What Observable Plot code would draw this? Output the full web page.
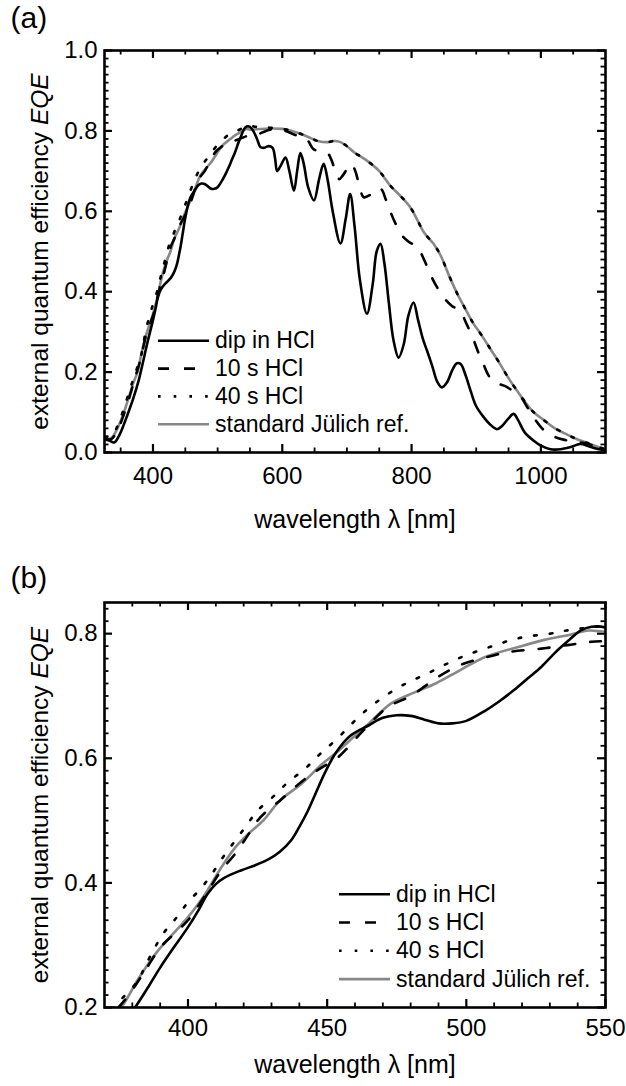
<!DOCTYPE html>
<html><head><meta charset="utf-8">
<script src="https://cdn.jsdelivr.net/npm/d3@7"></script>
<script src="https://cdn.jsdelivr.net/npm/@observablehq/plot@0.6"></script>
<style>
body{margin:0;background:#fff;}
#page{position:relative;width:626px;height:1086px;overflow:hidden;font-family:"Liberation Sans",Arial,Helvetica,sans-serif;}
#page > svg{position:absolute;left:0;}
</style></head>
<body><div id="page"></div>
<script>
// ---- data: [wavelength nm, EQE] ----
const dipHCl = [[325,0.033],[332,0.03],[340,0.025],[347,0.04],[355,0.07],[362,0.10],[370,0.137],[378,0.18],[381,0.20],[386,0.235],[390,0.264],[395,0.297],[400,0.329],[404,0.358],[407,0.382],[410,0.398],[413,0.408],[419,0.42],[424,0.428],[429,0.438],[433,0.45],[437,0.468],[440,0.49],[443,0.515],[446,0.545],[449,0.575],[453,0.608],[458,0.635],[465,0.653],[470,0.665],[475,0.669],[480,0.668],[485,0.662],[490,0.656],[495,0.656],[500,0.66],[507,0.677],[512,0.692],[517,0.709],[522,0.728],[527,0.747],[532,0.77],[537,0.79],[541,0.805],[545,0.811],[550,0.81],[555,0.80],[561,0.78],[566,0.76],[572,0.758],[578,0.762],[585,0.758],[589,0.73],[592,0.70],[598,0.715],[605,0.734],[611,0.70],[618,0.651],[623,0.70],[628,0.745],[633,0.72],[640,0.66],[649,0.627],[657,0.68],[664,0.718],[670,0.68],[678,0.60],[690,0.52],[698,0.58],[705,0.643],[712,0.56],[720,0.43],[731,0.345],[740,0.42],[746,0.50],[752,0.519],[758,0.47],[765,0.37],[772,0.28],[780,0.236],[788,0.27],[795,0.34],[803,0.373],[810,0.33],[818,0.28],[824,0.253],[832,0.215],[840,0.175],[847,0.162],[855,0.175],[863,0.205],[870,0.222],[876,0.22],[884,0.19],[892,0.15],[900,0.115],[912,0.087],[920,0.072],[932,0.058],[940,0.066],[950,0.085],[958,0.096],[965,0.08],[975,0.05],[989,0.029],[1000,0.017],[1015,0.008],[1030,0.008],[1045,0.013],[1061,0.021],[1075,0.015],[1090,0.008],[1100,0.005]];

const hcl10s = [[325,0.035],[335,0.033],[345,0.055],[355,0.095],[365,0.145],[372,0.185],[378,0.216],[384,0.255],[390,0.296],[395,0.318],[400,0.34],[404,0.365],[408,0.393],[412,0.42],[417,0.447],[421,0.473],[425,0.50],[429,0.518],[433,0.532],[438,0.552],[443,0.57],[448,0.585],[454,0.602],[462,0.64],[467,0.663],[472,0.683],[480,0.70],[490,0.731],[498,0.75],[508,0.763],[516,0.771],[527,0.776],[537,0.782],[545,0.787],[550,0.788],[560,0.79],[575,0.80],[590,0.805],[605,0.80],[620,0.79],[632,0.785],[640,0.775],[648,0.755],[660,0.748],[670,0.745],[676,0.728],[682,0.70],[688,0.68],[694,0.69],[700,0.705],[707,0.718],[713,0.70],[719,0.665],[726,0.635],[735,0.64],[745,0.656],[753,0.655],[760,0.63],[767,0.60],[775,0.57],[785,0.54],[795,0.525],[805,0.515],[813,0.50],[822,0.47],[830,0.44],[838,0.415],[850,0.385],[862,0.365],[875,0.352],[885,0.32],[896,0.28],[903,0.25],[910,0.225],[918,0.195],[926,0.177],[936,0.17],[945,0.165],[955,0.155],[968,0.14],[980,0.11],[992,0.08],[1005,0.055],[1020,0.04],[1035,0.032],[1050,0.028],[1065,0.024],[1080,0.018],[1100,0.01]];

const hcl40s = [[325,0.04],[335,0.04],[345,0.065],[355,0.11],[365,0.16],[370,0.185],[376,0.213],[382,0.243],[385,0.27],[391,0.318],[396,0.345],[400,0.369],[405,0.393],[409,0.417],[413,0.444],[417,0.468],[421,0.492],[425,0.516],[431,0.54],[436,0.562],[442,0.583],[447,0.605],[453,0.629],[464,0.677],[475,0.712],[486,0.736],[497,0.76],[508,0.778],[519,0.793],[530,0.80],[536,0.805],[550,0.812],[560,0.81],[580,0.808],[600,0.805],[615,0.80],[628,0.793],[640,0.785],[655,0.775],[670,0.772],[680,0.775],[690,0.772],[700,0.762],[711,0.747],[731,0.726],[750,0.70],[767,0.664],[783,0.638],[798,0.61],[810,0.575],[819,0.548],[834,0.519],[845,0.49],[858,0.44],[871,0.394],[884,0.355],[896,0.32],[907,0.295],[917,0.27],[927,0.245],[937,0.22],[950,0.185],[963,0.154],[976,0.125],[989,0.10],[1005,0.08],[1020,0.062],[1040,0.045],[1056,0.033],[1075,0.022],[1090,0.013],[1100,0.008]];

const julichRef = [[325,0.035],[335,0.035],[345,0.06],[355,0.10],[365,0.15],[370,0.175],[376,0.20],[382,0.245],[389,0.29],[395,0.32],[400,0.345],[404,0.368],[407,0.388],[412,0.425],[417,0.457],[422,0.48],[427,0.50],[433,0.532],[441,0.56],[448,0.59],[453,0.608],[459,0.632],[465,0.656],[473,0.688],[481,0.705],[489,0.72],[498,0.742],[507,0.763],[519,0.779],[528,0.79],[537,0.798],[544,0.805],[550,0.803],[560,0.804],[580,0.806],[600,0.805],[615,0.80],[628,0.793],[640,0.785],[655,0.775],[670,0.772],[680,0.775],[690,0.772],[700,0.762],[711,0.747],[731,0.726],[750,0.70],[767,0.664],[783,0.638],[798,0.61],[810,0.575],[819,0.548],[834,0.519],[845,0.49],[858,0.44],[871,0.394],[884,0.355],[896,0.32],[907,0.295],[917,0.27],[927,0.245],[937,0.22],[950,0.185],[963,0.154],[976,0.125],[989,0.10],[1005,0.08],[1020,0.062],[1040,0.045],[1056,0.033],[1075,0.022],[1090,0.013],[1100,0.008]];

const seriesNames = ["dip in HCl", "10 s HCl", "40 s HCl", "standard Jülich ref."];
const seriesData = [dipHCl, hcl10s, hcl40s, julichRef];

// ticks
const xMajorA = [400, 600, 800, 1000];
const xMinorA = [350, 450, 500, 550, 650, 700, 750, 850, 900, 950, 1050];
const yMajorA = [0, 0.2, 0.4, 0.6, 0.8, 1.0];
const xMajorB = [400, 450, 500, 550];
const xMinorB = [380, 390, 410, 420, 430, 440, 460, 470, 480, 490, 510, 520, 530, 540];
const yMajorB = [0.2, 0.4, 0.6, 0.8];

// ---- styling ----
const FONT = '"Liberation Sans", Arial, Helvetica, sans-serif';
const seriesStroke = ["#000", "#000", "#000", "#888888"];
const seriesDash = [null, "11,15", "2.6,13.1", null];
const drawOrder = [3, 2, 1, 0];

function minorTicks(lo, hi, step, majors) {
  const out = [];
  for (let i = Math.round(lo / step); i * step <= hi + 1e-9; i++) {
    const v = +(i * step).toFixed(4);
    if (v < lo - 1e-9) continue;
    if (!majors.some(m => Math.abs(m - v) < 1e-6)) out.push(v);
  }
  return out;
}

function panel(o) {
  const width = 626, marginLeft = 104, marginRight = 21;
  const innerW = width - marginLeft - marginRight;
  const innerH = o.height - o.marginTop - o.marginBottom;
  const majLen = 8, minLen = 4.5;
  const yMinor = minorTicks(o.yDomain[0], o.yDomain[1], 0.02, o.yMajor);
  const marks = [];
  for (const [vals, len, sw] of [[o.xMajor, majLen, 2.2], [o.xMinor, minLen, 1.8]]) {
    marks.push(Plot.ruleX(vals, {x: d => d, insetTop: innerH - len, stroke: "#000", strokeWidth: sw}));
    marks.push(Plot.ruleX(vals, {x: d => d, insetBottom: innerH - len, stroke: "#000", strokeWidth: sw}));
  }
  for (const [vals, len, sw] of [[o.yMajor, majLen, 2.2], [yMinor, minLen, 1.8]]) {
    marks.push(Plot.ruleY(vals, {y: d => d, insetRight: innerW - len, stroke: "#000", strokeWidth: sw}));
    marks.push(Plot.ruleY(vals, {y: d => d, insetLeft: innerW - len, stroke: "#000", strokeWidth: sw}));
  }
  for (const k of drawOrder) {
    marks.push(Plot.line(seriesData[k], {
      x: d => d[0], y: d => d[1], stroke: seriesStroke[k], strokeWidth: 2.6,
      strokeDasharray: seriesDash[k], curve: "catmull-rom", clip: true
    }));
  }
  marks.push(Plot.frame({stroke: "#000", strokeWidth: 2.6}));
  marks.push(Plot.axisX({ticks: o.xMajor, anchor: "bottom", tickSize: 0, tickPadding: o.xPad, tickFormat: d3.format("d"), fontSize: 24, label: null}));
  marks.push(Plot.axisY({ticks: o.yMajor, anchor: "left", tickSize: 0, tickPadding: 7, tickFormat: d3.format(".1f"), fontSize: 24, label: null}));
  marks.push(Plot.text(["wavelength λ [nm]"], {frameAnchor: "bottom", dy: o.xLabelDy, lineAnchor: "bottom", fontSize: 25}));
  marks.push(Plot.text(["external quantum efficiency EQE"], {frameAnchor: "left", dx: -57, rotate: -90, lineAnchor: "bottom", textAnchor: "middle", fontSize: 24.5}));
  marks.push(Plot.text([o.tag], {frameAnchor: "top-left", dx: 10 - marginLeft, dy: o.tagDy, textAnchor: "start", lineAnchor: "bottom", fontSize: 30}));

  const svg = Plot.plot({
    width, height: o.height, marginLeft, marginRight, marginTop: o.marginTop, marginBottom: o.marginBottom,
    x: {domain: o.xDomain}, y: {domain: o.yDomain},
    style: {fontFamily: FONT, fontSize: "24px", color: "#000", background: "#fff", overflow: "visible"},
    marks
  });
  svg.style.top = o.top + "px";
  // italic EQE
  d3.select(svg).selectAll("text").each(function () {
    if (this.textContent === "external quantum efficiency EQE") {
      this.textContent = "external quantum efficiency ";
      d3.select(this).append("tspan").attr("font-style", "italic").text("EQE");
    }
  });
  document.getElementById("page").appendChild(svg);

  // legend overlay (page coordinates)
  const lg = d3.select("#page").append("svg")
    .attr("width", 626).attr("height", 1086)
    .style("top", "0px").style("pointer-events", "none")
    .style("font-family", FONT).style("font-size", "23px");
  seriesNames.forEach((name, i) => {
    const base = o.legend.y + i * o.legend.step;
    lg.append("line").attr("x1", o.legend.x).attr("x2", o.legend.x + 51)
      .attr("y1", base - 7.5).attr("y2", base - 7.5)
      .attr("stroke", seriesStroke[i]).attr("stroke-width", 2.6)
      .attr("stroke-dasharray", seriesDash[i]);
    lg.append("text").attr("x", o.legend.x + 57).attr("y", base).attr("fill", "#000").text(name);
  });
}

panel({
  tag: "(a)", top: 0, height: 545, marginTop: 50, marginBottom: 93,
  xDomain: [325, 1100], yDomain: [0, 1],
  xMajor: xMajorA, xMinor: xMinorA, yMajor: yMajorA,
  xPad: 14, xLabelDy: 75, tagDy: -23,
  legend: {x: 158, y: 348.3, step: 27.8}
});
panel({
  tag: "(b)", top: 552, height: 534, marginTop: 50, marginBottom: 79,
  xDomain: [370, 550], yDomain: [0.2, 0.85],
  xMajor: xMajorB, xMinor: xMinorB, yMajor: yMajorB,
  xPad: 11.5, xLabelDy: 65, tagDy: -15,
  legend: {x: 339, y: 901.7, step: 28.3}
});
</script>
</body></html>
